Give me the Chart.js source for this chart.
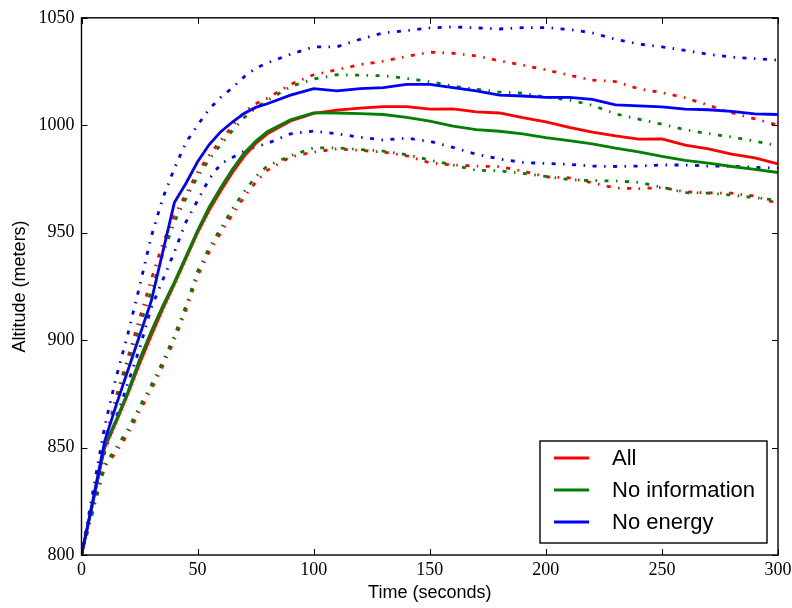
<!DOCTYPE html>
<html lang="en">
<head>
<meta charset="UTF-8" />
<title>Altitude over time</title>
<script src="https://cdn.jsdelivr.net/npm/chart.js"></script>
<style>
    html, body { margin: 0; padding: 0; background: #fff; }
    canvas { display: block; }
</style>
</head>
<body>
<canvas id="altChart" width="792" height="608"></canvas>

<script>
    // time samples (seconds)
    const times = [0, 5, 10, 15, 20, 25, 30, 35, 40, 45, 50, 55, 60, 65, 70, 75, 80,
        90, 100, 110, 120, 130, 140, 150, 160, 170, 180, 190, 200,
        210, 220, 230, 240, 250, 260, 270, 280, 290, 300];

    // "All" (red)
    const allMean = [800, 825, 850, 862, 875, 889, 902, 914.5, 926, 938, 950, 960.5, 969.5, 978, 985.5, 991.5, 996,
        1002, 1005.5, 1007, 1008, 1008.7, 1008.7, 1007.5, 1007.6, 1006.2, 1005.7, 1003.5, 1001.6,
        999, 996.8, 995, 993.5, 993.6, 990.7, 989, 986.6, 984.8, 982];
    const allHigh = [800, 826, 853, 874, 892, 910, 928, 945, 958, 968, 978, 986, 993, 999.5, 1006, 1010, 1012.5,
        1019, 1023.5, 1025.8, 1028.2, 1029.8, 1032, 1034, 1033.5, 1032.3, 1030, 1028, 1025.8,
        1023.3, 1021, 1020.3, 1017, 1015.2, 1012.8, 1009.3, 1005.8, 1003, 1000];
    const allLow = [800, 821, 841, 848, 856.5, 867, 877, 888, 900, 914, 930, 941, 950, 958.5, 966.5, 973.5, 979,
        985.3, 987.5, 989, 988.3, 987.5, 985.8, 982.5, 981.5, 981, 980.7, 978.7, 976,
        975.5, 973.2, 970.8, 970.5, 971, 969, 968.5, 968.4, 967, 963.5];

    // "No information" (green)
    const noInfoMean = [800, 825, 851, 863, 876, 891, 904, 916, 927, 939, 951, 962, 971, 979.5, 987, 992.5, 997,
        1002.5, 1005.8, 1005.7, 1005.4, 1005, 1003.7, 1001.9, 999.6, 998, 997.2, 996, 994.2,
        992.8, 991.3, 989.3, 987.6, 985.5, 983.7, 982.4, 980.8, 979.5, 978];
    const noInfoHigh = [800, 826, 852, 872, 890, 906, 923, 940, 955, 966, 976, 984, 991, 997.5, 1003.5, 1008, 1011.5,
        1018, 1021.5, 1023.5, 1023.3, 1023, 1021.8, 1020.3, 1018.2, 1016.8, 1015.4, 1015, 1013,
        1011.8, 1009.3, 1005.3, 1002.8, 1000.5, 997.9, 996.1, 994.5, 992.6, 990.5];
    const noInfoLow = [800, 821, 842, 850, 858.5, 869, 879, 890, 902, 916, 932, 943, 952, 961, 969, 976, 981,
        985.8, 989.5, 989.5, 988.7, 988, 986.3, 983.8, 981.5, 979, 978.8, 977.6, 976.2,
        974.7, 974.2, 974.1, 973.4, 971.2, 968.6, 968.4, 967.5, 966.3, 965];

    // "No energy" (blue)
    const noEnergyMean = [800, 826, 853, 870, 886, 902, 918, 941, 964, 973, 983, 991, 997, 1001.5, 1005.5, 1008.3, 1010,
        1014, 1017, 1016, 1017, 1017.5, 1019, 1019, 1017.5, 1016, 1014, 1013.6, 1013,
        1013, 1012, 1009.5, 1009, 1008.5, 1007.5, 1007.2, 1006.5, 1005.3, 1005];
    const noEnergyHigh = [800, 830, 860, 883, 903, 925, 948, 966, 980, 992, 1000, 1007.5, 1013, 1017.5, 1022.5, 1026.5, 1029,
        1033, 1036.5, 1036.5, 1040, 1043, 1044, 1045.3, 1045.8, 1045.3, 1044.8, 1045.4, 1045.4,
        1044.6, 1043, 1040, 1037.8, 1036.5, 1034.8, 1033, 1031.7, 1031, 1030.3];
    const noEnergyLow = [800, 824, 848, 864, 880, 896, 915, 928, 941, 955, 965, 975, 982, 985, 988, 990, 991.5,
        996, 997.3, 996, 994.4, 993.1, 994, 992.5, 989.7, 986.5, 984.3, 982.7, 982.2,
        981.8, 981, 980.8, 981, 981.5, 981.5, 981, 980.9, 980.4, 980];

    const xTickStep = 50;
    const yTickStep = 50;

    const RED = "#ff0000", GREEN = "#008000", BLUE = "#0000ff";

    const toPoints = vals => vals.map((v, i) => ({ x: times[i], y: v }));

    function line(label, color, vals, order, dashed) {
        return {
            label: label,
            data: toPoints(vals),
            borderColor: color,
            backgroundColor: color,
            borderWidth: dashed ? 2.8 : 2.8,
            borderDash: dashed ? [4, 7.5, 1.5, 7.5] : [],
            borderCapStyle: "butt",
            pointRadius: 0,
            tension: 0,
            fill: false,
            order: order,
            inLegend: !dashed
        };
    }

    // frame + inward ticks like the original
    const framePlugin = {
        id: "frame",
        afterDatasetsDraw(chart) {
            const { ctx, chartArea: a, scales: { x, y } } = chart;
            const len = 6;
            ctx.save();
            ctx.strokeStyle = "#000";
            ctx.lineWidth = 1;
            ctx.beginPath();
            x.ticks.forEach(t => {
                const px = Math.round(x.getPixelForValue(t.value)) + 0.5;
                ctx.moveTo(px, a.bottom); ctx.lineTo(px, a.bottom - len);
                ctx.moveTo(px, a.top); ctx.lineTo(px, a.top + len);
            });
            y.ticks.forEach(t => {
                const py = Math.round(y.getPixelForValue(t.value)) + 0.5;
                ctx.moveTo(a.left, py); ctx.lineTo(a.left + len, py);
                ctx.moveTo(a.right, py); ctx.lineTo(a.right - len, py);
            });
            ctx.stroke();
            ctx.lineWidth = 1.4;
            ctx.strokeRect(a.left, a.top, a.right - a.left, a.bottom - a.top);
            ctx.restore();
        }
    };

    // legend box in lower right of the plot
    const boxLegend = {
        id: "boxLegend",
        afterDraw(chart) {
            const { ctx, chartArea: a } = chart;
            const w = 227, h = 102;
            const bx = a.right - 11 - w, by = a.bottom - 12 - h;
            ctx.save();
            ctx.fillStyle = "#fff";
            ctx.fillRect(bx, by, w, h);
            ctx.strokeStyle = "#000";
            ctx.lineWidth = 1.4;
            ctx.strokeRect(bx, by, w, h);
            const items = chart.data.datasets.filter(d => d.inLegend);
            ctx.font = "22px 'Liberation Sans', Arial, sans-serif";
            ctx.textBaseline = "middle";
            items.forEach((d, i) => {
                const ly = by + 17 + i * 32;
                ctx.strokeStyle = d.borderColor;
                ctx.lineWidth = 3;
                ctx.beginPath();
                ctx.moveTo(bx + 14, ly);
                ctx.lineTo(bx + 49, ly);
                ctx.stroke();
                ctx.fillStyle = "#000";
                ctx.fillText(d.label, bx + 72, ly + 1);
            });
            ctx.restore();
        }
    };

    const tickFont = { family: "'Liberation Serif', 'DejaVu Serif', serif", size: 18 };
    const titleFont = { family: "'Liberation Sans', Arial, sans-serif", size: 18 };
    const plainNumber = v => String(v);

    new Chart(document.getElementById("altChart"), {
        type: "line",
        data: {
            datasets: [
                line("All", RED, allMean, 6, false),
                line("No information", GREEN, noInfoMean, 5, false),
                line("No energy", BLUE, noEnergyMean, 4, false),
                line("All high", RED, allHigh, 9, true),
                line("All low", RED, allLow, 9, true),
                line("No information high", GREEN, noInfoHigh, 8, true),
                line("No information low", GREEN, noInfoLow, 8, true),
                line("No energy high", BLUE, noEnergyHigh, 7, true),
                line("No energy low", BLUE, noEnergyLow, 7, true)
            ]
        },
        options: {
            responsive: false,
            animation: false,
            layout: { padding: { top: 15.5, right: 14, left: 0, bottom: 0 } },
            plugins: {
                legend: { display: false },
                tooltip: { enabled: false }
            },
            scales: {
                x: {
                    type: "linear",
                    min: 0,
                    max: 300,
                    ticks: { stepSize: xTickStep, color: "#000", font: tickFont, padding: 4, maxRotation: 0, callback: plainNumber },
                    grid: { display: false, drawTicks: false },
                    border: { display: false },
                    title: { display: true, text: "Time (seconds)", color: "#000", font: titleFont, padding: { top: 0, bottom: 4 } },
                    afterFit(s) { s.height = 53; s.paddingLeft = 0; s.paddingRight = 0; }
                },
                y: {
                    min: 800,
                    max: 1050,
                    ticks: { stepSize: yTickStep, color: "#000", font: tickFont, padding: 7, callback: plainNumber },
                    grid: { display: false, drawTicks: false },
                    border: { display: false },
                    title: { display: true, text: "Altitude (meters)", color: "#000", font: titleFont, padding: { top: 9, bottom: 0 } },
                    afterFit(s) { s.width = 81.5; }
                }
            }
        },
        plugins: [framePlugin, boxLegend]
    });
</script>
</body>
</html>
